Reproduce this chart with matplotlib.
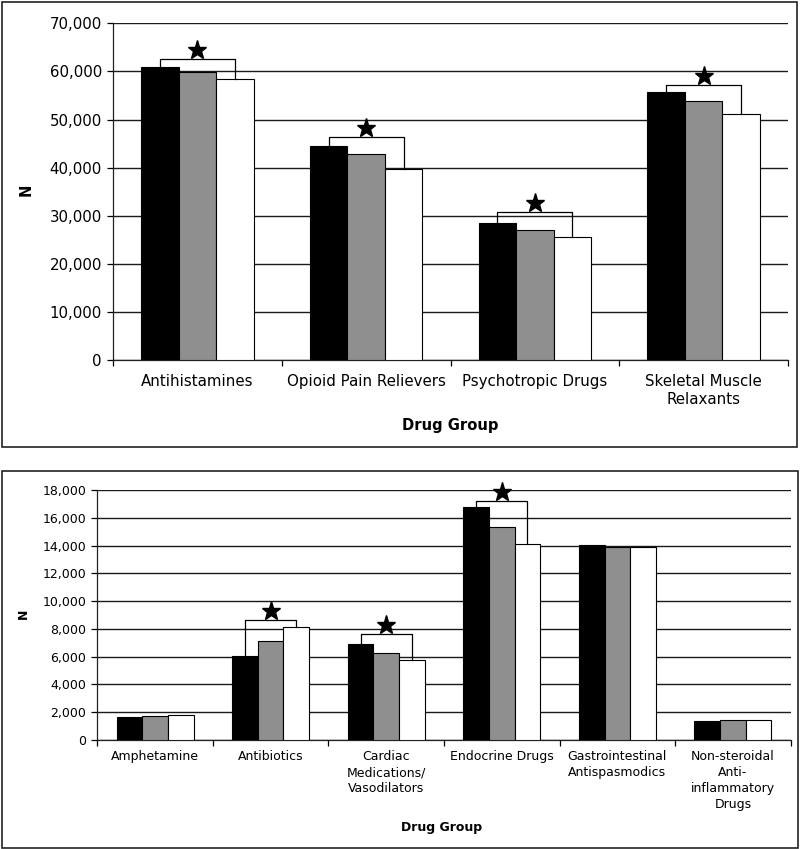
import numpy as np
import matplotlib
matplotlib.use("Agg")
import matplotlib.pyplot as plt
from matplotlib.patches import Rectangle
from matplotlib.ticker import FuncFormatter, MultipleLocator
from matplotlib.transforms import offset_copy

# top panel
top_groups = ["Antihistamines", "Opioid Pain Relievers", "Psychotropic Drugs",
              "Skeletal Muscle\nRelaxants"]
top_a = [60870, 44530, 28610, 55680]
top_b = [59900, 42930, 27020, 53870]
top_c = [58370, 39750, 25570, 51170]
top_brackets = [62590, 46380, 30770, 57190]

# bottom panel
bot_groups = ["Amphetamine", "Antibiotics", "Cardiac\nMedications/\nVasodilators",
              "Endocrine Drugs", "Gastrointestinal\nAntispasmodics",
              "Non-steroidal\nAnti-\ninflammatory\nDrugs"]
bot_a = [1630, 6020, 6890, 16800, 14060, 1390]
bot_b = [1700, 7130, 6260, 15310, 13920, 1460]
bot_c = [1780, 8160, 5740, 14110, 13870, 1440]
bot_brackets = [None, 8660, 7650, 17210, None, None]

colors = ["black", "#8f8f8f", "white"]


def draw_panel(fig, ax, groups, series, brackets, ymax, ystep, fs, pad, star_ms):
    n = len(groups)
    x = np.arange(n)
    w = 1 / 1.5 / 3
    for i, (vals, c) in enumerate(zip(series, colors)):
        ax.bar(x + (i - 1) * w, vals, w, color=c, edgecolor="black", linewidth=0.8, zorder=3)

    star_tr = offset_copy(ax.transData, fig=fig, y=6.5, units="points")
    for i, b in enumerate(brackets):
        if b is None:
            continue
        xl, xr = x[i] - w, x[i] + w
        ax.plot([xl, xl, xr, xr], [series[0][i], b, b, series[2][i]],
                color="black", linewidth=0.9, zorder=4)
        ax.plot(x[i], b, marker="*", color="black", markersize=star_ms,
                transform=star_tr, clip_on=False, zorder=5)

    ax.set_xlim(-0.5, n - 0.5)
    ax.set_ylim(0, ymax)
    ax.yaxis.set_major_locator(MultipleLocator(ystep))
    ax.yaxis.set_major_formatter(FuncFormatter(lambda v, p: f"{int(v):,}"))
    ax.grid(axis="y", color="#1a1a1a", linewidth=1.0, zorder=0)
    ax.set_axisbelow(True)

    ax.set_xticks(np.arange(n + 1) - 0.5)
    ax.set_xticklabels([])
    ax.set_xticks(x, minor=True)
    ax.set_xticklabels(groups, minor=True, fontsize=fs, multialignment="center",
                       linespacing=1.3)
    ax.tick_params(axis="x", which="major", length=4, width=0.9, direction="out")
    ax.tick_params(axis="x", which="minor", length=0, pad=pad)
    ax.tick_params(axis="y", length=4, width=0.9, labelsize=fs, pad=4)

    for s in ["top", "right"]:
        ax.spines[s].set_visible(False)
    for s in ["left", "bottom"]:
        ax.spines[s].set_linewidth(0.9)
        ax.spines[s].set_color("#222222")


fig = plt.figure(figsize=(8, 8.49), dpi=100)

ax1 = fig.add_axes([0.14125, 0.5754, 0.84375, 0.3972])
draw_panel(fig, ax1, top_groups, [top_a, top_b, top_c], top_brackets,
           70000, 10000, 10.8, 9.5, 14)

ax2 = fig.add_axes([0.1216, 0.1284, 0.8668, 0.2945])
draw_panel(fig, ax2, bot_groups, [bot_a, bot_b, bot_c], bot_brackets,
           18000, 2000, 9, 7.5, 14)

# axis titles
fig.text(450 / 800, 1 - 425.7 / 849, "Drug Group", ha="center", va="center",
         fontsize=10.6, fontweight="bold")
fig.text(26.5 / 800, 1 - 190 / 849, "N", ha="center", va="center",
         fontsize=10.6, fontweight="bold", rotation=90)
fig.text(442 / 800, 1 - 827.3 / 849, "Drug Group", ha="center", va="center",
         fontsize=9, fontweight="bold")
fig.text(23 / 800, 1 - 614 / 849, "N", ha="center", va="center",
         fontsize=9, fontweight="bold", rotation=90)

# panel frames
fig.add_artist(Rectangle((1.5 / 800, 1 - 447 / 849), 795.5 / 800, 445.5 / 849,
                         transform=fig.transFigure, fill=False, edgecolor="#222222", linewidth=1.2))
fig.add_artist(Rectangle((1.5 / 800, 1 - 847.5 / 849), 796 / 800, 376.5 / 849,
                         transform=fig.transFigure, fill=False, edgecolor="#222222", linewidth=1.2))

fig.savefig("out.png", dpi=100)
